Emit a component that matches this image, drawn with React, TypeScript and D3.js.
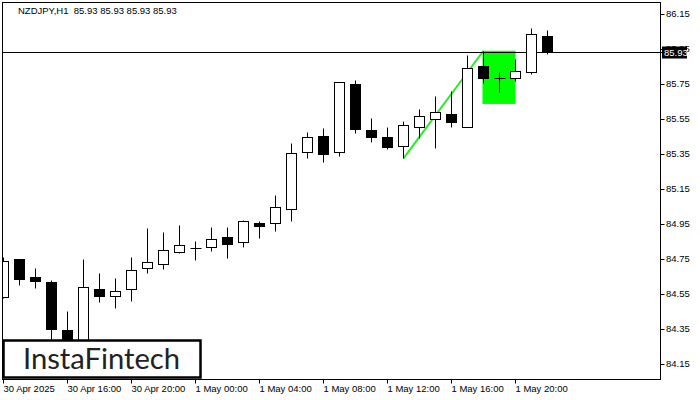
import { useRef, useEffect } from 'react'
import * as d3 from 'd3'

// NZDJPY H1, from 30 Apr 2025 12:00, one candle per hour
const opens = [84.535, 84.75, 84.647, 84.619, 84.344, 84.28, 84.577, 84.537, 84.577, 84.697, 84.72, 84.788, 84.811, 84.82, 84.874, 84.849, 84.956, 84.954, 85.034, 85.36, 85.453, 85.36, 85.75, 85.487, 85.447, 85.397, 85.503, 85.552, 85.577, 85.503, 85.853, 85.786, 85.783, 85.817, 86.024]
const highs = [84.76, 84.75, 84.70, 84.63, 84.453, 84.75, 84.67, 84.64, 84.763, 84.927, 84.904, 84.944, 84.853, 84.933, 84.933, 84.973, 84.967, 85.116, 85.413, 85.476, 85.497, 85.76, 85.773, 85.554, 85.504, 85.539, 85.607, 85.681, 85.71, 85.916, 85.939, 85.817, 85.891, 86.068, 86.059]
const lows = [84.53, 84.60, 84.586, 84.29, 84.22, 84.25, 84.504, 84.472, 84.512, 84.668, 84.695, 84.783, 84.744, 84.797, 84.757, 84.82, 84.872, 84.912, 84.969, 85.329, 85.306, 85.34, 85.472, 85.42, 85.379, 85.325, 85.44, 85.383, 85.503, 85.503, 85.757, 85.706, 85.767, 85.807, 85.92]
const closes = [84.739, 84.636, 84.626, 84.352, 84.27, 84.588, 84.54, 84.565, 84.685, 84.733, 84.801, 84.83, 84.811, 84.863, 84.837, 84.965, 84.94, 85.045, 85.354, 85.445, 85.352, 85.76, 85.495, 85.449, 85.392, 85.516, 85.565, 85.588, 85.535, 85.84, 85.786, 85.786, 85.826, 86.034, 85.93]

const timeTickIdx = [0, 4, 8, 12, 16, 20, 24, 28, 32]
const timeTickLabels = ['30 Apr 2025', '30 Apr 16:00', '30 Apr 20:00', '1 May 00:00', '1 May 04:00', '1 May 08:00', '1 May 12:00', '1 May 16:00', '1 May 20:00']
const priceTicks = [86.15, 85.95, 85.75, 85.55, 85.35, 85.15, 84.95, 84.75, 84.55, 84.35, 84.15]
const lastPrice = 85.93

const trendIdx = [25, 30]
const trendPrice = [85.325, 85.94]
const zoneIdx = [30, 32]
const zonePrice = [85.636, 85.94]

const W = 700
const H = 400
const plot = { left: 2.5, top: 2.5, right: 660.5, bottom: 379.5 }
const font = '"Liberation Sans", Arial, sans-serif'

const App = () => {
  const ref = useRef(null)

  useEffect(() => {
    const svg = d3.select(ref.current)
    svg.selectAll('*').remove()

    const x = d3.scaleLinear().domain([0, 1]).range([3.5, 19.5])
    const y = d3.scaleLinear().domain([84.15, 86.15]).range([364, 14])
    const px = (v) => Math.round(y(v)) + 0.5

    svg.append('defs').append('clipPath').attr('id', 'plotclip')
      .append('rect')
      .attr('x', plot.left).attr('y', plot.top)
      .attr('width', plot.right - plot.left).attr('height', plot.bottom - plot.top)

    svg.append('rect').attr('width', W).attr('height', H).attr('fill', '#fff')

    const g = svg.append('g').attr('clip-path', 'url(#plotclip)')

    // pattern zone
    g.append('rect')
      .attr('x', x(zoneIdx[0]) - 1)
      .attr('y', y(zonePrice[1]))
      .attr('width', x(zoneIdx[1]) - x(zoneIdx[0]) + 1)
      .attr('height', y(zonePrice[0]) - y(zonePrice[1]))
      .attr('fill', '#00ff00')

    // trend line
    g.append('line')
      .attr('x1', x(trendIdx[0])).attr('y1', y(trendPrice[0]))
      .attr('x2', x(trendIdx[1])).attr('y2', y(trendPrice[1]))
      .attr('stroke', '#22ee22').attr('stroke-width', 2)

    // last price line
    g.append('line')
      .attr('x1', plot.left).attr('x2', plot.right)
      .attr('y1', px(lastPrice)).attr('y2', px(lastPrice))
      .attr('stroke', '#000').attr('stroke-width', 1)

    const idx = d3.range(opens.length)
    const candles = g.selectAll('g.candle').data(idx).enter().append('g')

    candles.append('line')
      .attr('x1', (i) => Math.round(x(i)) - 0.5)
      .attr('x2', (i) => Math.round(x(i)) - 0.5)
      .attr('y1', (i) => px(highs[i]))
      .attr('y2', (i) => px(lows[i]))
      .attr('stroke', '#000').attr('stroke-width', 1)

    candles.filter((i) => Math.abs(opens[i] - closes[i]) > 0.003)
      .append('rect')
      .attr('x', (i) => Math.round(x(i)) - 5.5)
      .attr('width', 10)
      .attr('y', (i) => px(Math.max(opens[i], closes[i])))
      .attr('height', (i) => px(Math.min(opens[i], closes[i])) - px(Math.max(opens[i], closes[i])))
      .attr('fill', (i) => (closes[i] >= opens[i] ? '#fff' : '#000'))
      .attr('stroke', '#000').attr('stroke-width', 1)

    candles.filter((i) => Math.abs(opens[i] - closes[i]) <= 0.003)
      .append('line')
      .attr('x1', (i) => Math.round(x(i)) - 5.5)
      .attr('x2', (i) => Math.round(x(i)) + 5.5)
      .attr('y1', (i) => px(opens[i]))
      .attr('y2', (i) => px(opens[i]))
      .attr('stroke', '#000').attr('stroke-width', 1)

    // frame
    svg.append('rect')
      .attr('x', plot.left).attr('y', plot.top)
      .attr('width', plot.right - plot.left).attr('height', plot.bottom - plot.top)
      .attr('fill', 'none').attr('stroke', '#000').attr('stroke-width', 1)

    // price axis
    const yAxis = svg.append('g')
    priceTicks.forEach((p) => {
      yAxis.append('line')
        .attr('x1', plot.right).attr('x2', plot.right + 4)
        .attr('y1', px(p)).attr('y2', px(p))
        .attr('stroke', '#000')
      yAxis.append('text')
        .attr('x', 666).attr('y', y(p))
        .attr('dy', '0.35em')
        .attr('font-family', font).attr('font-size', 9.5)
        .attr('fill', '#000')
        .text(p.toFixed(2))
    })

    yAxis.append('line')
      .attr('x1', plot.right).attr('x2', 663)
      .attr('y1', px(lastPrice)).attr('y2', px(lastPrice))
      .attr('stroke', '#000')
    yAxis.append('rect')
      .attr('x', 662).attr('y', y(lastPrice) - 6)
      .attr('width', 25).attr('height', 12)
      .attr('fill', '#000')
    yAxis.append('text')
      .attr('x', 664).attr('y', y(lastPrice))
      .attr('dy', '0.35em')
      .attr('font-family', font).attr('font-size', 9.5)
      .attr('fill', '#fff')
      .text(lastPrice.toFixed(2))

    // time axis
    const xAxis = svg.append('g')
    timeTickIdx.forEach((t, k) => {
      const tx = Math.round(x(t)) - 0.5
      xAxis.append('line')
        .attr('x1', tx).attr('x2', tx)
        .attr('y1', plot.bottom).attr('y2', plot.bottom + 4)
        .attr('stroke', '#000')
      xAxis.append('text')
        .attr('x', Math.max(tx, 2)).attr('y', 392)
        .attr('font-family', font).attr('font-size', 9.5)
        .attr('fill', '#000')
        .text(timeTickLabels[k])
    })

    // title
    svg.append('text')
      .attr('x', 18).attr('y', 14)
      .attr('font-family', font).attr('font-size', 9.5)
      .attr('fill', '#000')
      .attr('xml:space', 'preserve')
      .text('NZDJPY,H1  85.93 85.93 85.93 85.93')

    // logo
    svg.append('rect')
      .attr('x', 3.5).attr('y', 340.5)
      .attr('width', 197).attr('height', 37)
      .attr('fill', '#fff').attr('stroke', '#000').attr('stroke-width', 2.5)
    svg.append('text')
      .attr('x', 23).attr('y', 368.5)
      .attr('font-family', 'Lato, "Open Sans", sans-serif').attr('font-size', 28)
      .attr('font-weight', 400)
      .attr('textLength', 157).attr('lengthAdjust', 'spacingAndGlyphs')
      .attr('fill', '#222')
      .text('InstaFintech')
  }, [])

  return (
    <div style={{ position: 'absolute', left: 0, top: 0 }}>
      <svg ref={ref} width={W} height={H} style={{ display: 'block' }} />
    </div>
  )
}

export default App
